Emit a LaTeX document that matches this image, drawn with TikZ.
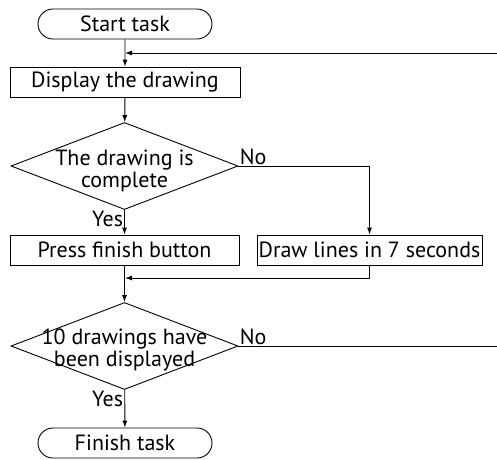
\documentclass[tikz,border=0pt]{standalone}
\usepackage{fontspec}
\setmainfont{PT Sans}
\usepackage{tikz}
\usetikzlibrary{arrows.meta, positioning, shapes.geometric, shapes.misc}

\begin{document}
\begin{tikzpicture}[
		x=1pt, y=-1pt,
		% Node styles
		terminal/.style={
				rounded rectangle, draw, minimum width=174pt, minimum height=30pt,
				inner sep=0pt, font=\fontsize{22}{24}\selectfont,
			},
		process/.style={
				rectangle, draw, minimum height=30pt, inner sep=0pt,
				font=\fontsize{22}{24}\selectfont,
			},
		% negative inner sep so that only the minimum sizes fix the diamond
		decision/.style={
				diamond, draw, minimum width=227pt, minimum height=87pt,
				inner xsep=-60pt, inner ysep=-30pt, align=center,
				font=\fontsize{22}{22}\selectfont,
			},
		answer/.style={font=\fontsize{22}{24}\selectfont, inner sep=1pt},
		% Edge/arrow style
		flow/.style={draw, line width=0.9pt, -{Latex[length=7pt,width=5pt]}},
		line width=0.9pt,
	]
	\useasboundingbox (0,0) rectangle (497,459);

	% --- main column ---
	\node[terminal] (start) at (125,24) {Start task};
	\node[process, minimum width=230pt] (show) at (125,82) {Display the drawing};
	\node[decision] (done) at (124.5,166) {};
	\node[font=\fontsize{22}{22}\selectfont, align=center, inner sep=0pt]
		(doneText) at (124.5,171) {The drawing is\\complete};
	\node[process, minimum width=229pt] (press) at (124.5,250) {Press finish button};
	\node[process, minimum width=225pt] (sketch) at (369.5,250) {Draw lines in 7 seconds};
	\node[decision] (count) at (124.5,346) {};
	\node[font=\fontsize{22}{22}\selectfont, align=center, inner sep=0pt]
		(countText) at (124.5,350) {10 drawings have\\been displayed};
	\node[terminal] (finish) at (125,443) {Finish task};

	% junction points on the main line and the right edge
	\coordinate (back) at (125,53);
	\coordinate (merge) at (125,278);
	\coordinate (edgeTop) at (497,53);
	\coordinate (edgeLow) at (497,346);

	% --- connectors ---
	\draw[flow] (start) -- (show);
	\draw[flow] (edgeTop) -- (back);
	\draw[flow] (show) -- (done);
	\draw[flow] (done) -- (press);
	\draw[flow] (done.east) -| (sketch.north);
	\draw[flow] (sketch.south) |- (merge);
	\draw[flow] (press) -- (count);
	\draw (count.east) -- (edgeLow);
	\draw[flow] (count) -- (finish);

	% --- answer labels ---
	\node[answer, anchor=south west] (noA) at (done.east) {No};
	\node[answer, anchor=north east] (yesA) at (done.south) {Yes};
	\node[answer, anchor=south west] (noB) at (count.east) {No};
	\node[answer, anchor=north east] (yesB) at (count.south) {Yes};
\end{tikzpicture}
\end{document}
